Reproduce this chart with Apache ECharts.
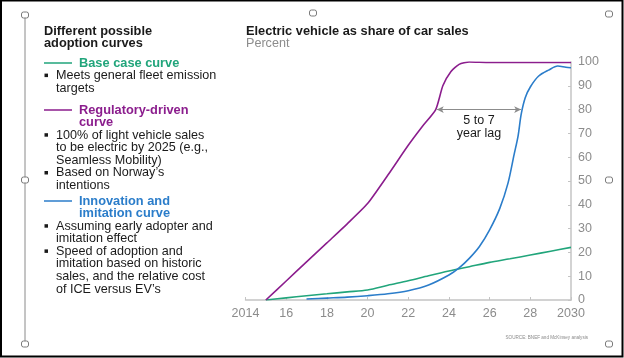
<!DOCTYPE html>
<html>
<head>
<meta charset="utf-8">
<script src="https://cdn.jsdelivr.net/npm/echarts@6/dist/echarts.min.js"></script>
<style>
html,body{margin:0;padding:0;background:#fff;}
#c{width:624px;height:358px;}
</style>
</head>
<body>
<div id="c"></div>
<script>
// ---- data ----
var chartTitle = 'Electric vehicle as share of car sales';
var chartUnit = 'Percent';
var yTicks = [0, 10, 20, 30, 40, 50, 60, 70, 80, 90, 100];
var xTickLabels = ['2014', '16', '18', '20', '22', '24', '26', '28', '2030'];

var baseYears = [2015, 2016, 2017, 2018, 2019, 2020, 2021, 2022, 2023, 2024, 2025, 2026, 2027, 2028, 2029, 2030];
var baseVals  = [0, 0.9, 1.8, 2.6, 3.4, 4.2, 6.2, 8.1, 10.2, 12.2, 14.0, 15.8, 17.3, 18.9, 20.5, 22.1];

var regYears = [2015, 2016, 2017, 2018, 2019, 2020, 2021, 2022, 2022.7, 2023.35, 2023.7, 2024.1, 2024.5, 2025, 2026, 2027, 2028, 2029, 2030];
var regVals  = [0, 8, 16, 24, 32, 40.5, 52.5, 65, 73, 80, 90, 96, 99, 100, 99.8, 99.8, 99.8, 99.8, 99.8];

var innoYears = [2017, 2018, 2019, 2020, 2021, 2022, 2023, 2024, 2024.5, 2025, 2025.5, 2026, 2026.5, 2026.9, 2027.2, 2027.4, 2027.55, 2027.75, 2028, 2028.4, 2028.9, 2029.35, 2029.75, 2030];
var innoVals  = [0.4, 0.8, 1.2, 1.8, 2.6, 3.9, 6.3, 10.5, 13.5, 17.5, 22.5, 29.5, 38.5, 49, 61, 69, 78, 85, 89.5, 94, 96.6, 98.3, 97.8, 97.6];

var lagStart = [2023.4, 80];
var lagEnd = [2027.55, 80];
var lagText = '5 to 7\nyear lag';

var panelTitle = ['Different possible', 'adoption curves'];
var baseName = ['Base case curve'];
var baseBullets = [['Meets general fleet emission', 'targets']];
var regName = ['Regulatory-driven', 'curve'];
var regBullets = [['100% of light vehicle sales', 'to be electric by 2025 (e.g.,', 'Seamless Mobility)'], ['Based on Norway\u2019s', 'intentions']];
var innoName = ['Innovation and', 'imitation curve'];
var innoBullets = [['Assuming early adopter and', 'imitation effect'], ['Speed of adoption and', 'imitation based on historic', 'sales, and the relative cost', 'of ICE versus EV\u2019s']];
var sourceText = 'SOURCE: BNEF and McKinsey analysis';

// ---- styles ----
var GREEN = '#21a57b', PURPLE = '#8b1d8d', BLUE = '#2b7dca';
var FONT = '"Liberation Sans", Arial, sans-serif';
var AXG = '#8c8c8c';
var BOLD_SIZE = 12.8, REG_SIZE = 12.6;

function zip(a, b) { return a.map(function (v, i) { return [v, b[i]]; }); }

var graphics = [];
// frame
graphics.push({type: 'rect', shape: {x: 1, y: 0.5, width: 621.5, height: 356}, style: {fill: 'none', stroke: '#000', lineWidth: 2}, z: 100});
// left selection line
graphics.push({type: 'line', shape: {x1: 25, y1: 15, x2: 25, y2: 344}, style: {stroke: '#8a8a8a', lineWidth: 1}});
// handles
[[25, 15], [313, 13], [609, 14], [25, 180], [609, 180], [25, 344], [609, 344]].forEach(function (p) {
  graphics.push({type: 'rect', shape: {x: p[0] - 3.5, y: p[1] - 3, width: 7, height: 6, r: 2}, style: {fill: '#fff', stroke: '#7a7a7a', lineWidth: 1}, z: 50});
});

function txt(x, y, s, color, bold) {
  graphics.push({type: 'text', x: x, y: y, style: {text: s, fill: color, font: (bold ? 'bold ' + BOLD_SIZE : REG_SIZE) + 'px ' + FONT, verticalAlign: 'middle', align: 'left'}});
}
var LH = 12.6;
panelTitle.forEach(function (s, i) { txt(44, 31 + i * LH, s, '#1a1a1a', true); });

function block(nameLines, color, bullets, y0) {
  graphics.push({type: 'line', shape: {x1: 44, y1: y0, x2: 72, y2: y0}, style: {stroke: color, lineWidth: 1.5}});
  nameLines.forEach(function (s, i) { txt(79, y0 + i * LH, s, color, true); });
  var yy = y0 + nameLines.length * LH;
  bullets.forEach(function (b) {
    graphics.push({type: 'rect', shape: {x: 44.5, y: yy - 2, width: 3.5, height: 3.5}, style: {fill: '#1a1a1a'}});
    b.forEach(function (s, i) { txt(56, yy + i * LH, s, '#1a1a1a', false); });
    yy += b.length * LH;
  });
}
block(baseName, GREEN, baseBullets, 63);
block(regName, PURPLE, regBullets, 110);
block(innoName, BLUE, innoBullets, 201);

// chart titles
txt(246, 31, chartTitle, '#1a1a1a', true);
txt(246, 43.5, chartUnit, '#8c8c8c', false);
graphics.push({type: 'text', x: 588, y: 338, style: {text: sourceText, fill: '#8a8a8a', font: '4.6px ' + FONT, align: 'right', verticalAlign: 'middle'}});

var chart = echarts.init(document.getElementById('c'), null, {renderer: 'canvas'});
chart.setOption({
  animation: false,
  backgroundColor: '#fff',
  grid: {left: 245.5, right: 53, top: 62, bottom: 58, containLabel: false},
  xAxis: {
    type: 'value', min: 2014, max: 2030, interval: 2,
    axisLine: {show: true, lineStyle: {color: '#c4c4c4', width: 1.5}},
    axisTick: {show: true, inside: true, length: 3, lineStyle: {color: '#c4c4c4'}},
    splitLine: {show: false},
    axisLabel: {color: AXG, fontFamily: FONT, fontSize: 12.5, margin: 7,
      formatter: function (v) { var i = Math.round((v - 2014) / 2); return xTickLabels[i] || ''; }}
  },
  yAxis: {
    type: 'value', position: 'right', min: yTicks[0], max: yTicks[yTicks.length - 1], interval: 10,
    axisLine: {show: true, lineStyle: {color: '#c4c4c4', width: 1.5}},
    axisTick: {show: true, inside: true, length: 3, lineStyle: {color: '#c4c4c4'}},
    splitLine: {show: false},
    axisLabel: {color: AXG, fontFamily: FONT, fontSize: 12.5, margin: 7}
  },
  series: [
    {name: 'Base case curve', type: 'line', data: zip(baseYears, baseVals), smooth: 0.3, showSymbol: false,
      lineStyle: {color: GREEN, width: 1.6}},
    {name: 'Innovation and imitation curve', type: 'line', data: zip(innoYears, innoVals), smooth: 0.3, showSymbol: false,
      lineStyle: {color: BLUE, width: 1.6}},
    {name: 'Regulatory-driven curve', type: 'line', data: zip(regYears, regVals), smooth: 0.2, showSymbol: false,
      lineStyle: {color: PURPLE, width: 1.6},
      markLine: {
        silent: true, symbol: ['arrow', 'arrow'], symbolSize: [5, 7],
        lineStyle: {color: '#8c8c8c', width: 1, type: 'solid'},
        label: {show: true, position: 'insideMiddleBottom', formatter: lagText, color: '#1a1a1a',
          fontFamily: FONT, fontSize: 12.5, lineHeight: 13, distance: 4},
        data: [[{coord: lagStart}, {coord: lagEnd}]]
      }}
  ],
  graphic: graphics
});
</script>
</body>
</html>
